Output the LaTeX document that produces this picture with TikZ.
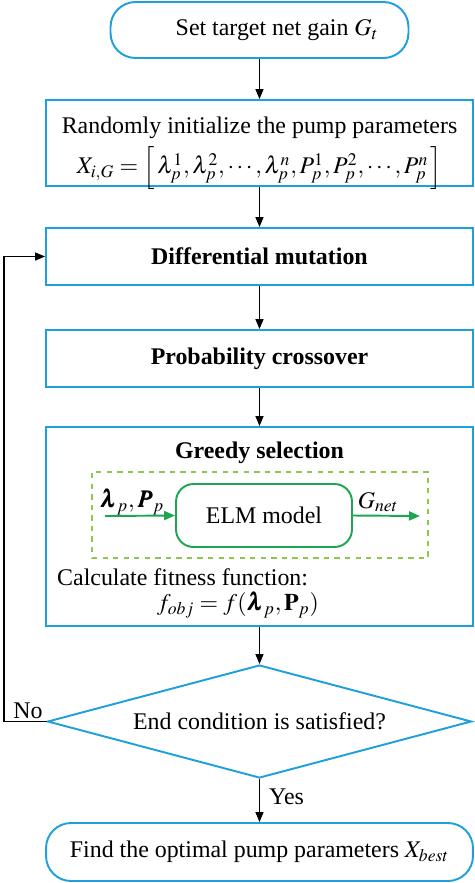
\documentclass[tikz,border=0pt]{standalone}
\usepackage{mathptmx}
\usepackage{bm}
\usepackage[no-math]{fontspec}
\setmainfont{Liberation Serif}
\usetikzlibrary{arrows.meta,shapes.geometric}
\definecolor{flowblue}{RGB}{30,160,220}
\definecolor{elmgreen}{RGB}{30,165,80}
\definecolor{dashgreen}{RGB}{140,200,80}
\tikzset{
  x=0.02cm, y=-0.02cm,
  >={Triangle[length=2mm,width=1.6mm]},
  every node/.style={font=\fontsize{13.6}{16}\selectfont},
  box/.style={draw=flowblue, line width=1.1pt, minimum width=8.54cm, inner sep=0pt},
  term/.style={box, rounded corners=0.5cm},
  flow/.style={line width=0.8pt, ->},
  greenflow/.style={draw=elmgreen, line width=1.1pt, -{Triangle[length=2.2mm,width=1.8mm]}, elmgreen}
}
\begin{document}
\begin{tikzpicture}
\useasboundingbox (0,0) rectangle (474,883);

\node[term, minimum width=5.96cm, minimum height=1.12cm] (start) at (259.5,30) {\hspace{0.7cm}Set target net gain $G_t$};
\node[box, minimum height=1.72cm] (init) at (259.5,143) {};
\node[inner sep=1pt] (inittext) at (259.5,128) {Randomly initialize the pump parameters};
\node[inner sep=1pt] (initvec) at (259.5,168) {$X_{i,G}=\Big[\,\lambda_p^1,\lambda_p^2,\cdots,\lambda_p^n,P_p^1,P_p^2,\cdots,P_p^n\,\Big]$};
\node[box, minimum height=1.14cm] (mut) at (259.5,256.5) {\bfseries Differential mutation};
\node[box, minimum height=1.14cm] (cross) at (259.5,358.5) {\bfseries Probability crossover};

\node[box, minimum height=3.98cm] (greedy) at (259.5,526.5) {};
\node (gtitle) at (259.5,453) {\bfseries Greedy selection};
\node[draw=dashgreen, dashed, line width=1pt, minimum width=6.72cm, minimum height=1.72cm] (elmarea) at (260,515) {};
\node[draw=elmgreen, line width=1.1pt, rounded corners=0.35cm, minimum width=3.52cm, minimum height=1.26cm] (elm) at (264,515.5) {ELM model};
\coordinate (inp) at (105,516);
\coordinate (outp) at (420,516);
\node (inlab) at (132,502) {$\bm{\lambda}_p,\bm{P}_p$};
\node (outlab) at (378,502) {$G_{net}$};
\node[anchor=west] (calc) at (51,577) {Calculate fitness function:};
\node (fobj) at (238,605) {$f_{obj}=f(\bm{\lambda}_p,\mathbf{P}_p)$};

\node[shape=diamond, draw=flowblue, line width=1.1pt, aspect=3.75, inner sep=0pt, minimum width=8.48cm, minimum height=2.26cm] (cond) at (259.5,721.5) {End condition is satisfied?};
\node[term, minimum height=1.16cm] (finish) at (259.5,852) {Find the optimal pump parameters $X_{best}$};

\coordinate (back) at (4,721.5);
\node (nolab) at (28,711) {No};
\node[anchor=west] (yeslab) at (263,797) {Yes};

\path
(start) edge[flow] (init)
(init) edge[flow] (mut)
(mut) edge[flow] (cross)
(cross) edge[flow] (greedy)
(greedy) edge[flow] (cond)
(cond) edge[flow] (finish);
\draw[flow] (cond.west) -- (back) |- (mut.west);
\draw[greenflow] (inp) -- (elm.west);
\draw[greenflow] (elm.east) -- (outp);
\end{tikzpicture}
\end{document}
